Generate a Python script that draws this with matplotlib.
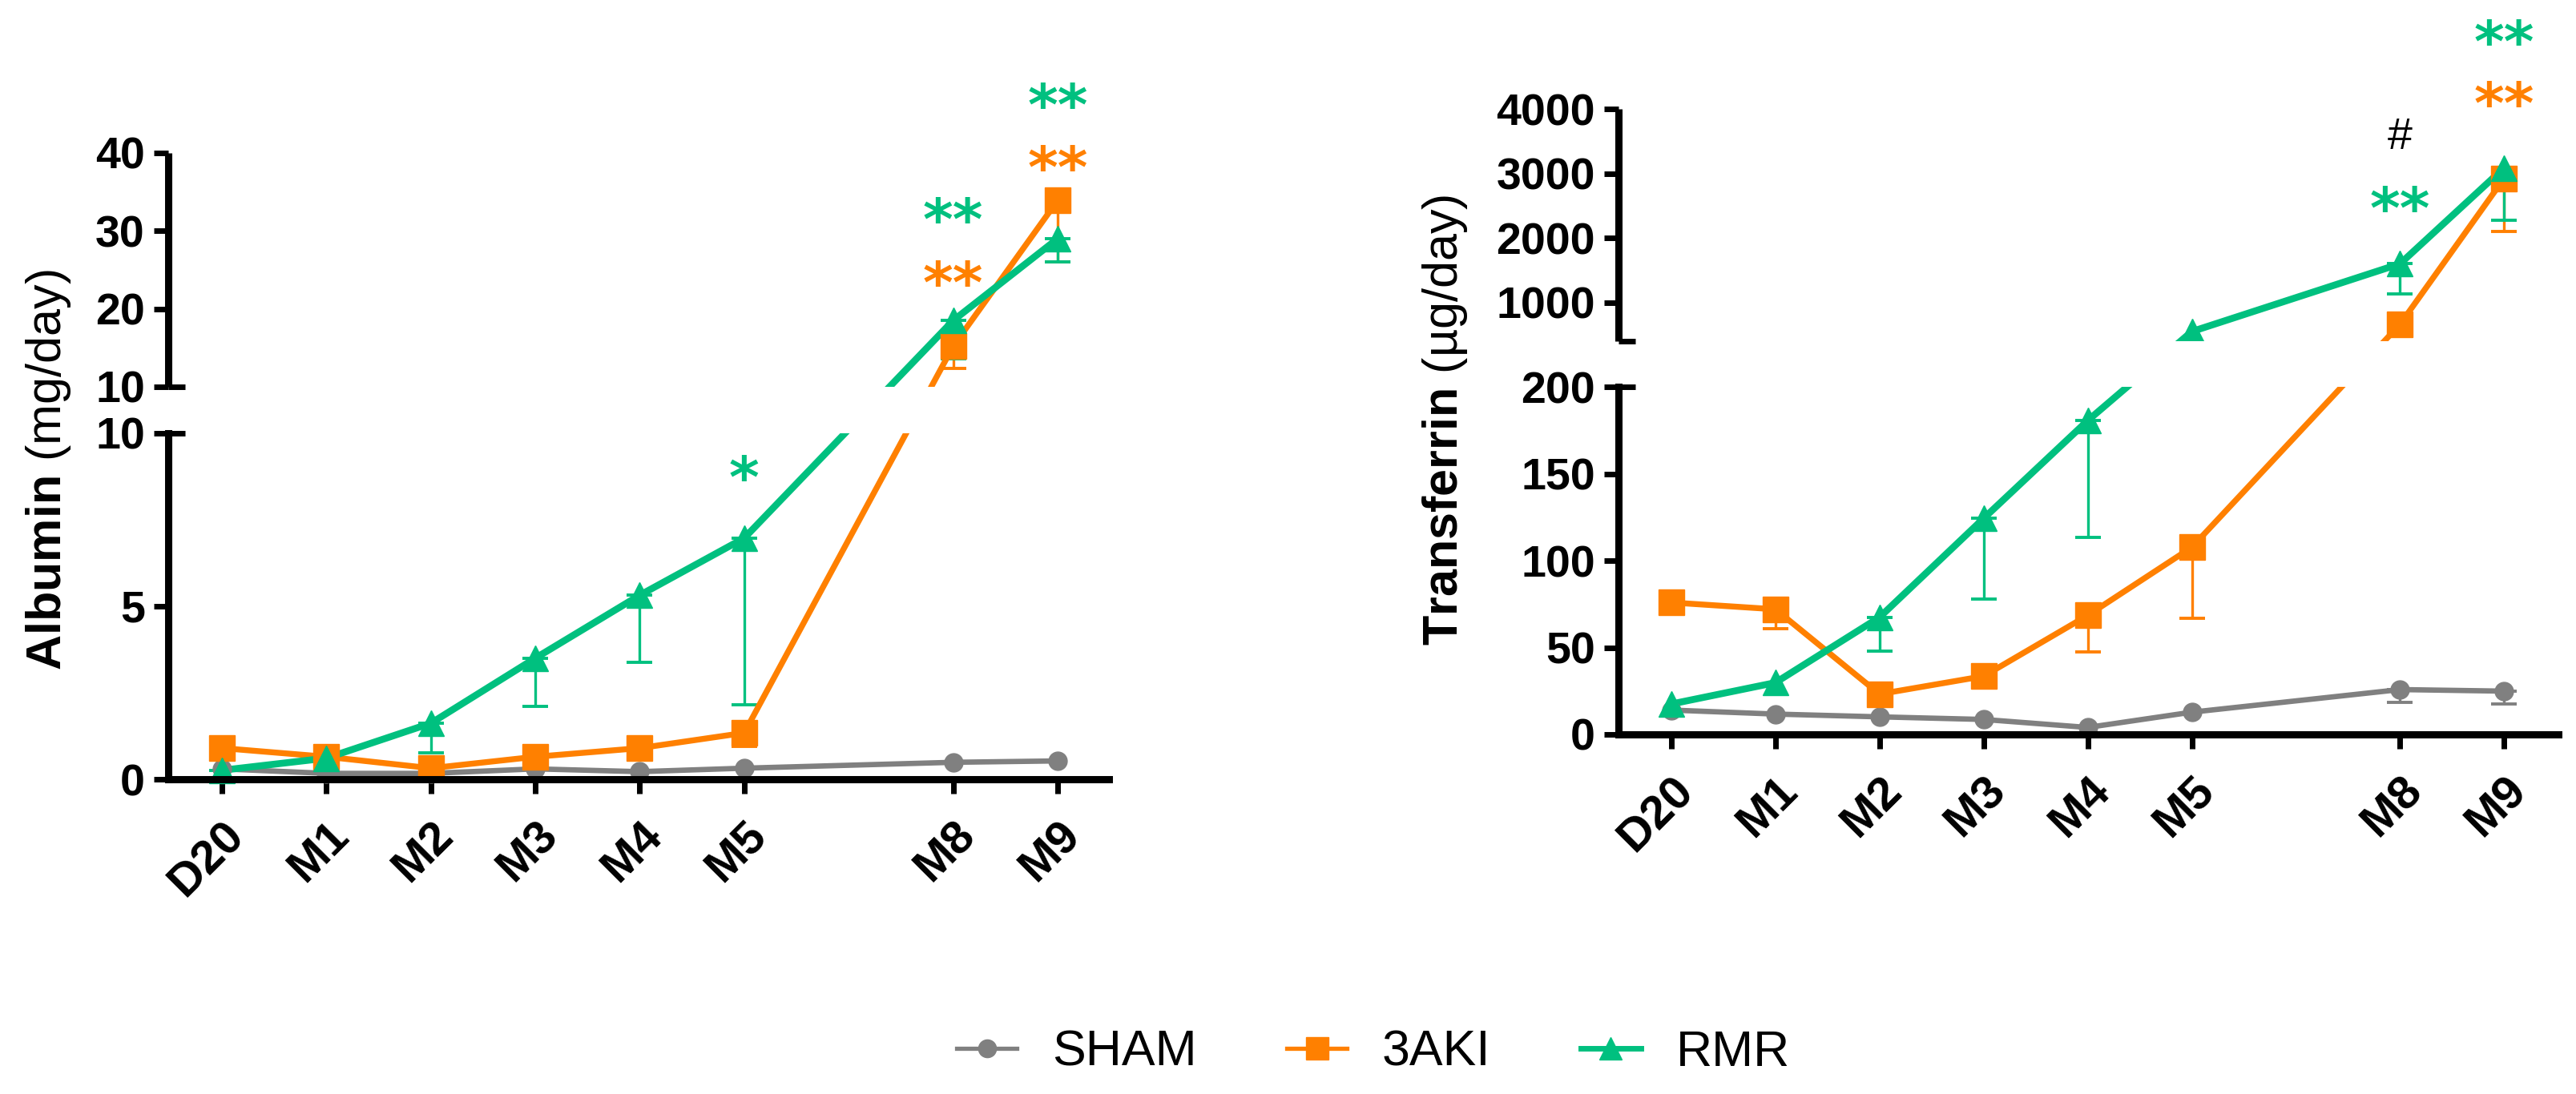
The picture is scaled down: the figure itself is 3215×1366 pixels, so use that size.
import numpy as np
import matplotlib
matplotlib.use("Agg")
import matplotlib.pyplot as plt
from matplotlib import transforms
from matplotlib.lines import Line2D
from matplotlib.patches import Rectangle

plt.rcParams["font.family"] = ["Liberation Sans", "DejaVu Sans"]
plt.rcParams["mathtext.fontset"] = "custom"
plt.rcParams["mathtext.rm"] = "Liberation Sans"
plt.rcParams["mathtext.bf"] = "Liberation Sans:bold"

# values: group means and the (lower) error bars
timepoints = ["D20", "M1", "M2", "M3", "M4", "M5", "M8", "M9"]
xpos = [0, 1, 2, 3, 4, 5, 7, 8]
groups = ["SHAM", "3AKI", "RMR"]
colors = ["#808080", "#ff8000", "#00c07f"]
markers = ["o", "s", "^"]

alb_sham = [0.30, 0.17, 0.17, 0.30, 0.22, 0.32, 0.49, 0.53]
alb_aki = [0.90, 0.65, 0.32, 0.65, 0.90, 1.34, 15.2, 33.9]
alb_rmr = [0.26, 0.61, 1.62, 3.50, 5.32, 6.97, 18.5, 29.0]
alb_sham_err = [0, 0, 0, 0, 0, 0, 0, 0]
alb_aki_err = [0, 0, 0, 0, 0, 0.38, 2.8, 7.9]
alb_rmr_err = [0.26, 0, 0.86, 1.39, 1.93, 4.82, 4.9, 3.0]

tf_sham = [14.0, 11.7, 10.1, 8.6, 4.0, 12.8, 25.8, 24.9]
tf_aki = [75.9, 72.0, 23.2, 33.5, 68.5, 107.7, 662, 2925]
tf_rmr = [17.5, 29.8, 67.4, 124.3, 180.6, 550, 1600, 3088]
tf_sham_err = [0, 0, 0, 0, 0, 0, 7.5, 7.4]
tf_aki_err = [0, 11.2, 0, 0, 21.0, 40.7, 0, 825]
tf_rmr_err = [0, 0, 19.6, 46.3, 67.1, 0, 463, 813]

# significance marks: (x, y, text, colour index)
alb_marks = [(5, 9.1, "*", 2), (7, 33.1, "**", 2), (7, 25.0, "**", 1),
             (8, 47.8, "**", 2), (8, 39.8, "**", 1)]
tf_marks = [(7, 2668, "**", 2), (8, 5243, "**", 2), (8, 4293, "**", 1)]
tf_hash = [(7, 3618, "#")]


def broken_scale(lo_top, up_bot, up_top, lower_px, gap_px, upper_px):
    gap = gap_px / lower_px * lo_top
    k = upper_px / lower_px * lo_top / (up_top - up_bot)
    base = lo_top + gap

    def fwd(y):
        y = np.asarray(y, dtype=float)
        return np.where(y <= lo_top, y, base + (y - up_bot) * k)

    def inv(z):
        z = np.asarray(z, dtype=float)
        return np.where(z <= lo_top, z,
                        np.where(z >= base, up_bot + (z - base) / k, lo_top))
    return fwd, inv, base, base + (up_top - up_bot) * k


def star(ax, x, y, s, color, fs=52, rise=0.57, family="DejaVu Sans", weight="bold"):
    ax.annotate(s, xy=(x, y), xytext=(0, -rise * fs), textcoords="offset points",
                ha="center", va="baseline", fontsize=fs, color=color,
                family=family, fontweight=weight, annotation_clip=False, zorder=6)


def panel(ax, series, errs, brk, yticks, ylabels, xlim):
    lo_top, up_bot, up_top, lower_px, gap_px, upper_px = brk
    fwd, inv, base, top = broken_scale(*brk)
    ax.set_yscale("function", functions=(fwd, inv))
    ax.set_ylim(0, up_top)
    ax.set_xlim(*xlim)

    lws = [4.8, 5.3, 6.2]
    msz = [16.5, 23.5, 23.5]
    for i, (vals, err) in enumerate(zip(series, errs)):
        idx = [j for j in range(len(vals)) if err[j] > 0]
        if idx:
            ex = [xpos[j] for j in idx]
            ey = [vals[j] for j in idx]
            lo = [err[j] for j in idx]
            ax.errorbar(ex, ey, yerr=[lo, [0] * len(idx)], fmt="none",
                        ecolor=colors[i], elinewidth=2.4, capsize=11.5,
                        capthick=2.8, zorder=1.9, clip_on=False)
        ax.plot(xpos, vals, color=colors[i], lw=lws[i], zorder=2.1 + 0.1 * i,
                clip_on=False, solid_capstyle="butt")
    for i in [1, 2, 0]:
        ax.plot(xpos, series[i], ls="none", marker=markers[i], ms=msz[i],
                color=colors[i], mec=colors[i], zorder=3 + 0.1 * i, clip_on=False)

    # white band hiding the lines inside the axis break
    ax.add_patch(Rectangle((0.004, lo_top / top), 1.0, (base - lo_top) / top,
                           transform=ax.transAxes, facecolor="white",
                           edgecolor="none", zorder=3.6, clip_on=False))

    for s in ["top", "right"]:
        ax.spines[s].set_visible(False)
    ax.spines["left"].set_bounds(0, lo_top)
    ax.spines["left"].set_linewidth(6.5)
    ax.spines["bottom"].set_linewidth(6.5)
    ax.spines["left"].set_zorder(4)
    ax.spines["bottom"].set_zorder(4)
    yt = transforms.blended_transform_factory(ax.transAxes, ax.transData)
    ax.add_line(Line2D([0, 0], [up_bot + 1e-6, up_top], transform=yt, color="black",
                       lw=6.5, solid_capstyle="butt", zorder=4, clip_on=False))
    for yy in [lo_top, up_bot + 1e-6]:
        ax.add_line(Line2D([0, 0.018], [yy, yy], transform=yt, color="black",
                           lw=5, solid_capstyle="butt", zorder=4, clip_on=False))

    ax.set_yticks(yticks)
    ax.set_yticklabels(ylabels, fontweight="bold")
    ax.set_xticks(xpos)
    ax.set_xticklabels(timepoints, fontweight="bold")
    ax.tick_params(axis="both", direction="out", length=13, width=5)
    ax.tick_params(axis="y", pad=8, labelsize=40)
    ax.tick_params(axis="x", pad=18, labelsize=42)
    for t in ax.get_xticklabels():
        t.set_rotation(45)
        t.set_ha("right")
        t.set_va("top")
        t.set_rotation_mode("anchor")


fig = plt.figure(figsize=(32.16, 13.66), dpi=100)

ax1 = fig.add_axes([0.0653, 0.2877, 0.3650, 0.5725])
panel(ax1, [alb_sham, alb_aki, alb_rmr], [alb_sham_err, alb_aki_err, alb_rmr_err],
      (10, 10, 40, 432, 58, 292),
      [0, 5, 10, 10 + 1e-6, 20, 30, 40], ["0", "5", "10", "10", "20", "30", "40"],
      (-0.514, 8.49))
for x, y, s, c in alb_marks:
    star(ax1, x, y, s, colors[c])

ax2 = fig.add_axes([0.6281, 0.3287, 0.3647, 0.5717])
panel(ax2, [tf_sham, tf_aki, tf_rmr], [tf_sham_err, tf_aki_err, tf_rmr_err],
      (200, 400, 4000, 434, 57, 290),
      [0, 50, 100, 150, 200, 1000, 2000, 3000, 4000],
      ["0", "50", "100", "150", "200", "1000", "2000", "3000", "4000"],
      (-0.508, 8.52))
for x, y, s, c in tf_marks:
    star(ax2, x, y, s, colors[c])
for x, y, s in tf_hash:
    star(ax2, x, y, s, "black", fs=40, rise=0.35, family="Liberation Sans",
         weight="normal")

fig.text(0.0187, 0.5703, r"$\mathbf{Albumin}$ (mg/day)", rotation=90,
         ha="center", va="center", fontsize=44)
fig.text(0.5607, 0.616, r"$\mathbf{Transferrin}$ (µg/day)", rotation=90,
         ha="center", va="center", fontsize=44)

handles = [Line2D([], [], color=colors[0], lw=3.8, marker="o", ms=16),
           Line2D([], [], color=colors[1], lw=3.8, marker="s", ms=19.5),
           Line2D([], [], color=colors[2], lw=5, marker="^", ms=19.5)]
fig.legend(handles, groups, loc="center", bbox_to_anchor=(0.533, 0.038), ncol=3,
           frameon=False, fontsize=45, handlelength=1.2, handletextpad=0.7,
           columnspacing=1.8, numpoints=1)

fig.savefig("out.png", dpi=100)
